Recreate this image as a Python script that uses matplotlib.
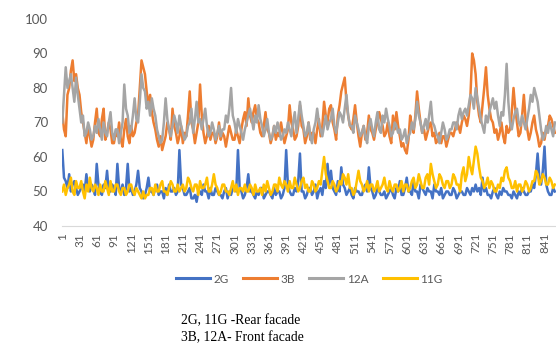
import matplotlib
matplotlib.use("Agg")
import matplotlib.pyplot as plt
from matplotlib.lines import Line2D

# values, one every 3 categories (1, 4, 7, ... 859)
STEP = 3
g2 = [62, 54, 53, 51, 55, 50, 52, 53, 51, 49, 50, 51, 52, 50, 55, 51, 50, 52, 51, 49, 58, 52, 50, 49, 52, 51, 56, 50, 50, 52, 51, 49, 58, 51, 50, 52, 49, 51, 58, 50,
      51, 49, 50, 52, 56, 51, 50, 48, 49, 51, 54, 50, 50, 49, 51, 52, 49, 50, 50, 48, 51, 49, 52, 50, 50, 51, 49, 50, 62, 52, 51, 49, 49, 50, 51, 48, 48, 49, 47, 50,
      50, 49, 52, 50, 50, 48, 51, 49, 49, 51, 50, 49, 49, 48, 50, 51, 48, 50, 49, 51, 51, 50, 62, 51, 50, 48, 49, 51, 55, 50, 50, 49, 48, 50, 49, 51, 51, 48, 49, 50,
      50, 49, 48, 51, 49, 50, 50, 48, 49, 51, 62, 52, 50, 49, 49, 51, 50, 53, 61, 50, 50, 48, 49, 51, 51, 49, 50, 52, 48, 50, 51, 49, 53, 51, 58, 52, 56, 51, 50, 49,
      53, 50, 57, 52, 51, 49, 50, 51, 49, 48, 51, 50, 50, 49, 49, 51, 52, 50, 57, 51, 50, 48, 49, 51, 50, 49, 49, 50, 48, 49, 50, 51, 49, 48, 51, 50, 53, 49, 49, 51,
      54, 50, 50, 49, 53, 50, 50, 48, 52, 51, 50, 49, 51, 50, 50, 48, 52, 50, 50, 49, 51, 48, 49, 50, 50, 49, 49, 51, 50, 48, 49, 50, 50, 49, 49, 51, 50, 49, 51, 50,
      52, 50, 51, 49, 54, 50, 51, 49, 49, 48, 50, 51, 49, 48, 50, 49, 51, 50, 50, 49, 49, 48, 50, 49, 48, 50, 49, 51, 50, 49, 49, 50, 50, 52, 51, 55, 61, 54, 52, 56,
      63, 52, 50, 49, 49, 51, 50]
b3 = [73, 68, 66, 78, 80, 85, 88, 82, 84, 80, 78, 73, 70, 67, 64, 69, 66, 63, 65, 70, 74, 67, 66, 71, 74, 65, 67, 70, 68, 64, 64, 67, 66, 70, 65, 63, 68, 71, 66, 64,
      69, 66, 67, 70, 72, 80, 88, 86, 84, 79, 75, 78, 73, 70, 68, 65, 63, 66, 62, 64, 66, 70, 68, 65, 74, 69, 67, 64, 66, 69, 64, 67, 66, 72, 79, 70, 68, 64, 67, 70,
      81, 72, 67, 64, 66, 69, 65, 67, 67, 64, 66, 70, 65, 67, 66, 63, 66, 69, 67, 65, 65, 68, 66, 64, 68, 71, 73, 69, 77, 72, 70, 73, 75, 71, 70, 67, 66, 69, 73, 68,
      67, 64, 66, 69, 65, 67, 66, 70, 67, 64, 66, 68, 75, 70, 68, 65, 66, 69, 75, 69, 68, 64, 66, 70, 65, 67, 67, 64, 68, 71, 66, 69, 76, 72, 70, 74, 75, 70, 68, 65,
      72, 75, 79, 81, 83, 76, 72, 69, 68, 71, 75, 70, 66, 63, 67, 69, 65, 67, 72, 68, 67, 65, 68, 70, 73, 71, 69, 66, 67, 70, 66, 64, 72, 68, 73, 69, 66, 63, 64, 62,
      61, 65, 72, 69, 67, 72, 79, 74, 70, 67, 68, 65, 67, 69, 70, 66, 67, 64, 65, 67, 64, 66, 66, 63, 65, 67, 67, 66, 68, 70, 69, 67, 70, 72, 71, 69, 72, 78, 90, 88,
      84, 76, 72, 70, 75, 80, 86, 78, 74, 71, 70, 67, 68, 65, 67, 70, 66, 64, 69, 67, 68, 73, 80, 74, 70, 66, 67, 72, 78, 71, 68, 65, 67, 70, 72, 68, 66, 63, 64, 67,
      65, 68, 69, 72, 71, 69, 67]
a12 = [70, 78, 86, 80, 82, 84, 80, 76, 83, 78, 74, 70, 72, 66, 67, 70, 68, 65, 66, 69, 67, 71, 68, 65, 70, 67, 66, 70, 73, 67, 65, 68, 68, 64, 67, 70, 81, 74, 72, 67,
       68, 72, 77, 71, 70, 76, 84, 80, 79, 74, 76, 72, 77, 74, 72, 68, 66, 64, 65, 70, 77, 71, 68, 66, 69, 72, 70, 67, 72, 69, 67, 65, 66, 69, 70, 74, 67, 71, 76, 70,
       71, 68, 71, 74, 69, 66, 67, 70, 68, 65, 67, 69, 66, 68, 68, 72, 70, 74, 80, 72, 70, 67, 71, 69, 67, 65, 68, 70, 72, 74, 71, 68, 72, 70, 75, 71, 69, 66, 68, 71,
       67, 65, 66, 69, 67, 70, 68, 65, 66, 68, 67, 70, 68, 66, 70, 73, 67, 71, 76, 72, 69, 66, 67, 70, 66, 64, 68, 70, 74, 70, 68, 66, 69, 72, 68, 70, 71, 74, 69, 67,
       70, 73, 72, 70, 74, 78, 72, 69, 69, 67, 72, 70, 68, 66, 67, 69, 66, 64, 69, 71, 68, 66, 70, 73, 68, 67, 72, 70, 74, 71, 69, 66, 67, 70, 69, 67, 68, 65, 66, 68,
       64, 66, 67, 70, 68, 71, 76, 72, 70, 67, 69, 71, 68, 72, 76, 70, 69, 67, 66, 64, 67, 70, 68, 65, 66, 68, 68, 70, 70, 68, 72, 74, 71, 73, 74, 72, 75, 78, 77, 74,
       80, 77, 74, 71, 69, 67, 72, 70, 73, 75, 77, 74, 76, 72, 69, 73, 72, 78, 87, 76, 70, 68, 71, 73, 74, 70, 69, 72, 70, 68, 71, 74, 78, 76, 80, 78, 76, 72, 68, 65,
       66, 69, 67, 70, 68, 66, 70]
g11 = [50, 52, 49, 51, 52, 54, 50, 49, 53, 51, 51, 53, 50, 48, 52, 50, 54, 51, 50, 52, 51, 49, 52, 50, 50, 53, 51, 49, 53, 50, 50, 52, 52, 50, 49, 51, 51, 49, 50, 52,
       52, 50, 49, 51, 50, 49, 48, 50, 48, 49, 49, 51, 51, 49, 52, 50, 50, 52, 53, 50, 50, 49, 51, 53, 52, 50, 50, 52, 50, 51, 52, 50, 51, 54, 53, 51, 50, 52, 52, 49,
       53, 51, 51, 52, 54, 50, 50, 52, 55, 52, 51, 49, 50, 52, 52, 50, 50, 49, 51, 53, 50, 52, 49, 51, 51, 50, 52, 50, 50, 52, 51, 49, 52, 50, 50, 51, 49, 52, 50, 53,
       51, 49, 50, 52, 52, 50, 54, 52, 51, 53, 52, 50, 53, 51, 51, 54, 52, 50, 51, 53, 54, 51, 52, 50, 50, 53, 52, 50, 51, 53, 52, 56, 60, 55, 53, 51, 51, 53, 52, 50,
       51, 53, 52, 55, 54, 52, 55, 51, 51, 49, 50, 53, 56, 53, 52, 50, 51, 53, 50, 52, 52, 50, 51, 53, 50, 51, 52, 54, 51, 50, 53, 51, 50, 52, 52, 50, 51, 53, 50, 52,
       52, 50, 51, 53, 54, 51, 52, 55, 53, 51, 51, 54, 55, 52, 58, 55, 53, 51, 52, 55, 54, 52, 51, 53, 53, 51, 52, 55, 54, 52, 52, 50, 55, 57, 53, 55, 60, 57, 55, 59,
       63, 61, 57, 54, 53, 51, 52, 54, 51, 53, 52, 50, 50, 52, 51, 54, 53, 56, 57, 54, 53, 51, 51, 53, 50, 52, 52, 50, 51, 53, 52, 50, 51, 53, 53, 56, 55, 52, 53, 55,
       54, 52, 52, 54, 53, 51, 52]

series = [("2G", g2, "#4472C4"), ("3B", b3, "#ED7D31"),
          ("12A", a12, "#A5A5A5"), ("11G", g11, "#FFC000")]
tick_labels = list(range(1, 842, 30))
n_cat = 861

fig = plt.figure(figsize=(5.56, 3.45), dpi=100)
ax = fig.add_axes([0.1115, 0.345, 0.8885, 0.60])

for name, vals, col in series:
    xs = [1 + i * STEP for i in range(len(vals))]
    ax.plot(xs, vals, color=col, lw=1.8, label=name)

ax.set_ylim(40, 100)
ax.set_xlim(0.5, n_cat)
ax.set_yticks(range(40, 101, 10))
ax.set_xticks(tick_labels)
ax.set_xticklabels([str(t) for t in tick_labels], rotation=90)
for s in ["top", "right", "left"]:
    ax.spines[s].set_visible(False)
ax.spines["bottom"].set_color("#D9D9D9")
ax.tick_params(axis="both", length=0, colors="#595959")
ax.tick_params(axis="y", labelsize=9.5, pad=10)
ax.tick_params(axis="x", labelsize=8.5, pad=5)
for lab in ax.get_xticklabels() + ax.get_yticklabels():
    lab.set_fontfamily("Lato")

handles = [Line2D([], [], color=c, lw=2.2) for _, _, c in series]
leg = fig.legend(handles, [s[0] for s in series], loc="center",
                 bbox_to_anchor=(0.556, 0.191), ncol=4, frameon=False,
                 handlelength=2.9, handletextpad=0.3, columnspacing=1.2,
                 prop={"family": "Lato", "size": 8.5})
for t in leg.get_texts():
    t.set_color("#595959")

fig.text(181 / 556, 1 - 321 / 345, "2G, 11G -Rear facade", family="Liberation Serif",
         fontsize=9.8, va="center", ha="left")
fig.text(181 / 556, 1 - 338 / 345, "3B, 12A- Front facade", family="Liberation Serif",
         fontsize=9.8, va="center", ha="left")

fig.savefig("out.png", dpi=100)
